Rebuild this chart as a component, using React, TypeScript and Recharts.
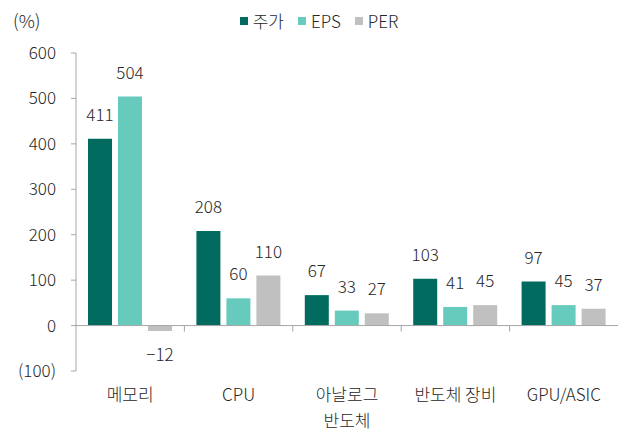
import {
  BarChart,
  Bar,
  XAxis,
  YAxis,
  ReferenceLine,
  LabelList,
  Legend,
} from 'recharts'

const CATEGORIES = ['메모리', 'CPU', '아날로그\n반도체', '반도체 장비', 'GPU/ASIC']
const STOCK = [411, 208, 67, 103, 97]
const EPS = [504, 60, 33, 41, 45]
const PER = [-12, 110, 27, 45, 37]
const Y_TICKS = [-100, 0, 100, 200, 300, 400, 500, 600]

const SERIES = [
  { key: 'stock', name: '주가', color: '#016b5f' },
  { key: 'eps', name: 'EPS', color: '#66cbbd' },
  { key: 'per', name: 'PER', color: '#c0c0c0' },
]

const TEXT = '#262626'
const AXIS = '#a6a6a6'
const FONT = '"Noto Sans CJK KR", "Noto Sans", sans-serif'

const data = CATEGORIES.map((name, i) => ({
  name,
  stock: STOCK[i],
  eps: EPS[i],
  per: PER[i],
}))

function formatY(v: number) {
  return v < 0 ? `(${Math.abs(v)})` : String(v)
}

function formatLabel(v: unknown) {
  const n = Number(v)
  return n < 0 ? `\u2212${Math.abs(n)}` : String(n)
}

function CategoryTick({ x, y, payload }: any) {
  const lines = String(payload.value).split('\n')
  return (
    <text x={x} y={y} textAnchor="middle" fill={TEXT} fontSize={17}>
      {lines.map((line, i) => (
        <tspan key={i} x={x} dy={i === 0 ? 30 : 26}>
          {line}
        </tspan>
      ))}
    </text>
  )
}

// little tick under the zero line at the start of each category band
function BoundaryTick(props: any) {
  return (
    <line x1={props.x1} y1={props.y1} x2={props.x1} y2={props.y1 + 6} stroke={AXIS} strokeWidth={1} />
  )
}

function LegendContent() {
  return (
    <div style={{ display: 'flex', justifyContent: 'center', paddingLeft: 27, fontSize: 17, color: TEXT }}>
      {SERIES.map((s) => (
        <div key={s.key} style={{ display: 'flex', alignItems: 'center', marginRight: 14 }}>
          <span style={{ width: 8, height: 8, background: s.color, marginRight: 5, display: 'inline-block' }} />
          <span>{s.name}</span>
        </div>
      ))}
    </div>
  )
}

export default function App() {
  return (
    <div
      style={{
        position: 'absolute',
        left: 0,
        top: 0,
        width: 625,
        height: 435,
        fontFamily: FONT,
        fontWeight: 300,
        background: '#fff',
      }}
    >
      <div style={{ position: 'absolute', left: 13, top: 7, fontSize: 18, color: TEXT }}>(%)</div>
      <BarChart
        width={625}
        height={435}
        data={data}
        margin={{ top: 53, right: 7, bottom: 0, left: 0 }}
        barGap={6}
        barCategoryGap={12}
      >
        <Legend
          layout="horizontal"
          verticalAlign="middle"
          align="center"
          content={<LegendContent />}
          wrapperStyle={{ top: 8, left: 0, width: 625 }}
        />
        <XAxis
          dataKey="name"
          axisLine={false}
          tickLine={false}
          tickSize={0}
          tickMargin={0}
          height={64}
          interval={0}
          tick={<CategoryTick />}
        />
        <YAxis
          domain={[-100, 600]}
          ticks={Y_TICKS}
          tickFormatter={formatY}
          width={76}
          tick={{ fill: TEXT, fontSize: 17 }}
          axisLine={{ stroke: AXIS }}
          tickLine={{ stroke: AXIS }}
          tickSize={5}
          tickMargin={15}
          interval={0}
        />
        <ReferenceLine y={0} stroke={AXIS} strokeWidth={1} />
        {CATEGORIES.slice(1).map((c) => (
          <ReferenceLine
            key={c}
            position="start"
            segment={[
              { x: c, y: 0 },
              { x: c, y: -100 },
            ]}
            shape={<BoundaryTick />}
          />
        ))}
        {SERIES.map((s) => (
          <Bar key={s.key} dataKey={s.key} name={s.name} fill={s.color} isAnimationActive={false}>
            <LabelList
              dataKey={s.key}
              position="top"
              offset={18}
              fill={TEXT}
              fontSize={17}
              formatter={formatLabel}
            />
          </Bar>
        ))}
      </BarChart>
    </div>
  )
}
